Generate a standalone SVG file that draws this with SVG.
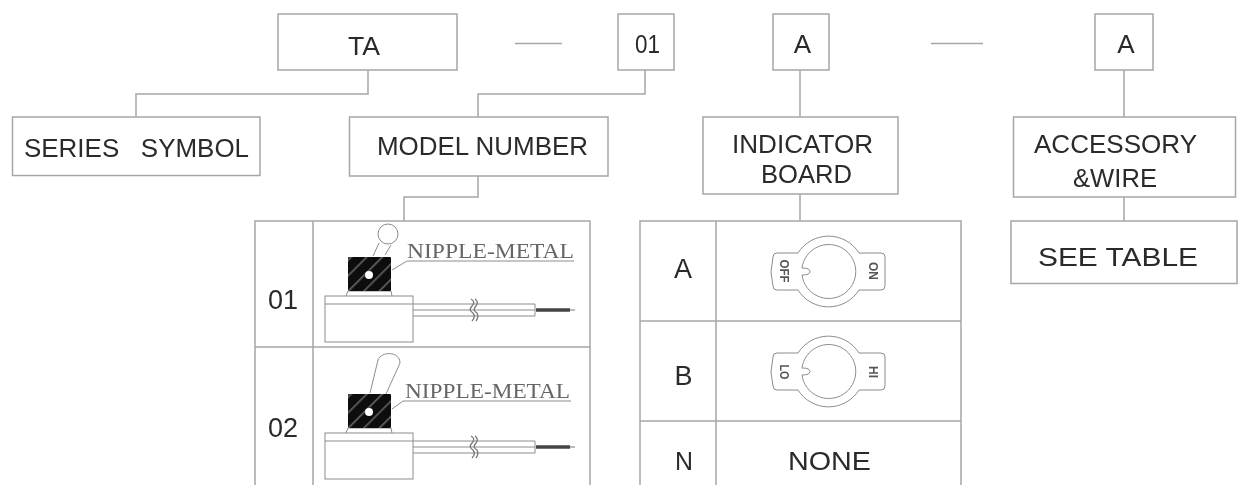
<svg xmlns="http://www.w3.org/2000/svg" width="1238" height="485" viewBox="0 0 1238 485">
<style>
.b{fill:#fff;stroke:#a6a6a6;stroke-width:1.5}
.l{fill:none;stroke:#a6a6a6;stroke-width:1.5}
.d{fill:none;stroke:#8c8c8c;stroke-width:1}
.t{font-family:"Liberation Sans",Arial,sans-serif;font-size:26px;fill:#2a2a2a}
.c{text-anchor:middle}
.n{font-family:"Liberation Serif","Times New Roman",serif;font-size:22px;fill:#666}
.m{font-family:"Liberation Sans",Arial,sans-serif;font-size:12px;font-weight:bold;fill:#555;text-anchor:middle}
</style>
<defs>
<filter id="s" x="-5%" y="-5%" width="110%" height="110%"><feGaussianBlur stdDeviation="0.55"/></filter>
<pattern id="h" width="11" height="11" patternUnits="userSpaceOnUse" patternTransform="rotate(45)"><rect width="11" height="11" fill="#111"/><rect width="1.5" height="11" fill="#666"/></pattern>
<g id="board"><path class="d" d="M798 253H777Q773 253 773 257L771 272L773 286Q773 290 777 290H798A36 36 0 0 0 859 290H881Q885 290 885 286V257Q885 253 881 253H859A36 36 0 0 0 798 253Z"/><path class="d" d="M802 268A27 27 0 1 1 802 275Q810 275 810 271.5Q810 268 802 268Z"/></g>
<g id="sw"><rect class="d" x="325" y="0" width="88" height="46"/><path class="d" d="M325 8H413M346 0L348 -5H391L392 0M413 8H535M413 14H535M413 20H535V8"/><path d="M471 3Q476 6 472 10Q468 14 473 17Q476 21 472 25M475 3Q479 6 476 10Q472 14 477 17Q479 21 476 25" fill="none" stroke="#777" stroke-width="1.3"/><path d="M536 14H570" stroke="#444" stroke-width="3.5" fill="none"/><path d="M570 14H575" stroke="#777" fill="none"/><rect x="348" y="-39" width="43" height="34" rx="1" fill="url(#h)"/><circle cx="369" cy="-21" r="4" fill="#fff"/></g>
</defs>
<g filter="url(#s)">
<g id="connectors">
<path class="l" d="M368 70V94H136V117M645 70V94H478V117M478 176V197H404V221M800 70V117M800 194V221M1124 70V117M1124 197V221M515 43.500H562M931 43.500H983"/>
</g>
<g id="ta"><rect class="b" x="278" y="14" width="179" height="56"/><text class="t" x="348" y="55" textLength="32" lengthAdjust="spacingAndGlyphs">TA</text></g>
<g id="n01"><rect class="b" x="618" y="14" width="56" height="56"/><text class="t" x="635" y="53" textLength="25" lengthAdjust="spacingAndGlyphs">01</text></g>
<g id="a1"><rect class="b" x="773" y="14" width="56" height="56"/><text class="t c" x="802.500" y="53">A</text></g>
<g id="a2"><rect class="b" x="1095" y="14" width="58" height="56"/><text class="t c" x="1126" y="53">A</text></g>
<g id="series"><rect class="b" x="12.500" y="117" width="247.500" height="58.500"/><text class="t" x="24" y="157" xml:space="preserve" textLength="225" lengthAdjust="spacingAndGlyphs">SERIES   SYMBOL</text></g>
<g id="model"><rect class="b" x="349.500" y="117" width="258.500" height="59"/><text class="t" x="377" y="155" textLength="211" lengthAdjust="spacingAndGlyphs">MODEL NUMBER</text></g>
<g id="indicator"><rect class="b" x="703" y="117" width="195" height="77"/><text class="t" x="732" y="153" textLength="141" lengthAdjust="spacingAndGlyphs">INDICATOR</text><text class="t" x="761" y="183" textLength="91" lengthAdjust="spacingAndGlyphs">BOARD</text></g>
<g id="accessory"><rect class="b" x="1013.500" y="117" width="222" height="80"/><text class="t" x="1034" y="153" textLength="163" lengthAdjust="spacingAndGlyphs">ACCESSORY</text><text class="t" x="1073" y="187" textLength="84" lengthAdjust="spacingAndGlyphs">&amp;WIRE</text></g>
<g id="seetable"><rect class="b" x="1011" y="221" width="226" height="62.500"/><text class="t" x="1038" y="266" textLength="160" lengthAdjust="spacingAndGlyphs">SEE TABLE</text></g>
<g id="modeltable">
<path class="l" d="M255 485V221H590V485M313 221V485M255 347H590"/>
<text class="t c" x="283" y="309" style="font-size:27px">01</text>
<text class="t c" x="283" y="437" style="font-size:27px">02</text>
<use href="#sw" y="296"/>
<use href="#sw" y="433"/>
<circle class="d" cx="388" cy="234" r="10"/>
<path class="d" d="M373 256L379 243M385 255L391 245"/>
<path class="d" d="M370 393L378 360C381 351 400 351 400 363L386 394"/>
<text class="n" x="407" y="258" textLength="167" lengthAdjust="spacingAndGlyphs">NIPPLE-METAL</text>
<path class="d" d="M392 270L407 261H574"/>
<text class="n" x="405" y="398" textLength="165" lengthAdjust="spacingAndGlyphs">NIPPLE-METAL</text>
<path class="d" d="M392 409L403 401H571"/>
</g>
<g id="boardtable">
<path class="l" d="M640 485V221H961V485M716 221V485M640 321H961M640 421H961"/>
<text class="t c" x="683" y="278" style="font-size:27px">A</text>
<text class="t c" x="683.500" y="385" style="font-size:27px">B</text>
<text class="t" x="675" y="470" textLength="18" lengthAdjust="spacingAndGlyphs">N</text>
<use href="#board"/>
<text class="m" transform="translate(780 271) rotate(90)" textLength="23" lengthAdjust="spacingAndGlyphs">OFF</text>
<text class="m" transform="translate(869 271) rotate(90)" textLength="18" lengthAdjust="spacingAndGlyphs">ON</text>
<use href="#board" y="100"/>
<text class="m" transform="translate(780 372) rotate(90)" textLength="15" lengthAdjust="spacingAndGlyphs">LO</text>
<text class="m" transform="translate(869 372) rotate(90)" textLength="12" lengthAdjust="spacingAndGlyphs">HI</text>
<text class="t" x="788" y="470" textLength="83" lengthAdjust="spacingAndGlyphs">NONE</text>
</g>
</g>
</svg>
